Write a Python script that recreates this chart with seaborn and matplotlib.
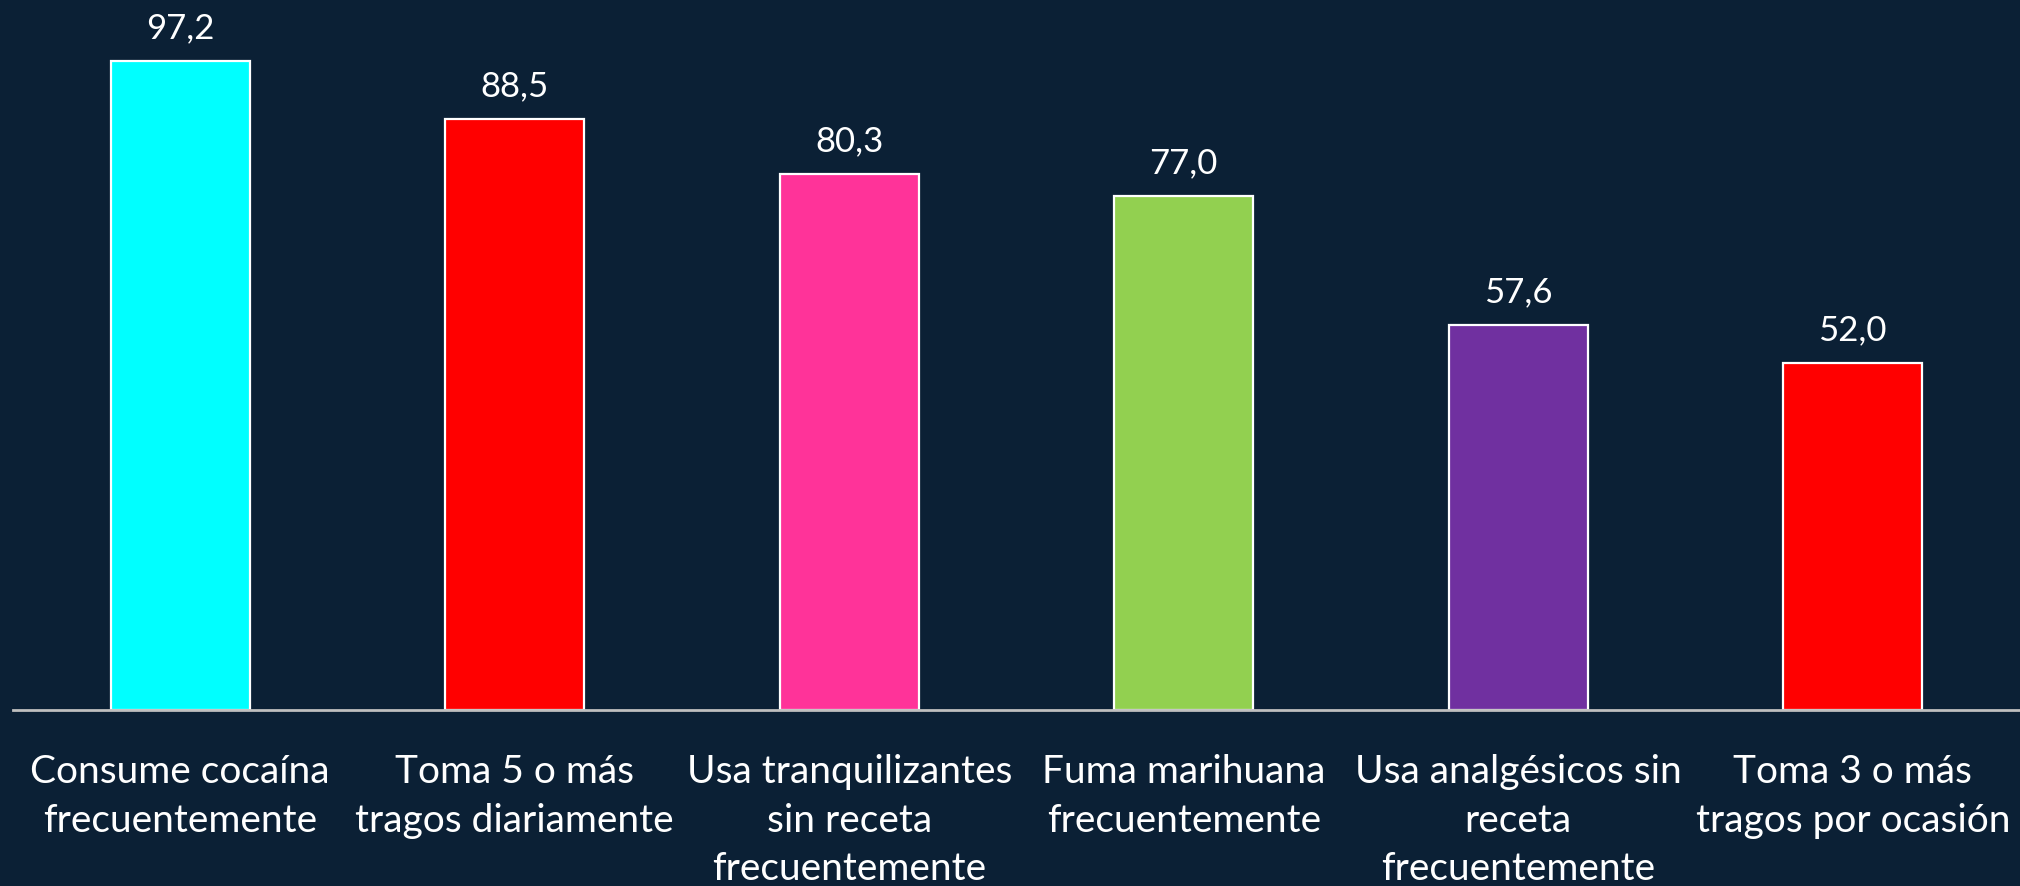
import matplotlib
matplotlib.use("Agg")
import matplotlib.pyplot as plt
import seaborn as sns
import pandas as pd

# datos
categorias = [
    "Consume cocaína\nfrecuentemente",
    "Toma 5 o más\ntragos diariamente",
    "Usa tranquilizantes\nsin receta\nfrecuentemente",
    "Fuma marihuana\nfrecuentemente",
    "Usa analgésicos sin\nreceta\nfrecuentemente",
    "Toma 3 o más\ntragos por ocasión",
]
valores = [97.2, 88.5, 80.3, 77.0, 57.6, 52.0]
colores = ["#00FFFF", "#FF0000", "#FF3399", "#92D050", "#7030A0", "#FF0000"]

fondo = "#0B2035"

sns.set_theme(style="white")
plt.rcParams["font.family"] = ["Lato", "DejaVu Sans"]

df = pd.DataFrame({"cat": categorias, "val": valores})

fig = plt.figure(figsize=(20.2, 8.86), dpi=100, facecolor=fondo)
ax = fig.add_axes([13 / 2020, 176 / 886, 2007 / 2020, 668 / 886])
ax.set_facecolor(fondo)

sns.barplot(data=df, x="cat", y="val", hue="cat", palette=colores,
            legend=False, width=0.415, edgecolor="white", linewidth=1.6,
            saturation=1, ax=ax)

ax.set_ylim(0, 100)
ax.set_xlim(-0.5, 5.5)

etiquetas = [f"{v:.1f}".replace(".", ",") for v in valores]
for cont in ax.containers:
    ax.bar_label(cont, labels=[etiquetas[int(round(b.get_x() + b.get_width() / 2))] for b in cont],
                 padding=12, color="white", fontsize=25, clip_on=False)

ax.set_xlabel("")
ax.set_ylabel("")
ax.set_yticks([])
ax.tick_params(axis="x", length=0, pad=32, labelsize=28, colors="white")
for t in ax.get_xticklabels():
    t.set_multialignment("center")
    t.set_linespacing(1.42)

for s in ["top", "right", "left"]:
    ax.spines[s].set_visible(False)
ax.spines["bottom"].set_color("#BFBFBF")
ax.spines["bottom"].set_linewidth(2)

fig.savefig("out.png", dpi=100, facecolor=fondo)
